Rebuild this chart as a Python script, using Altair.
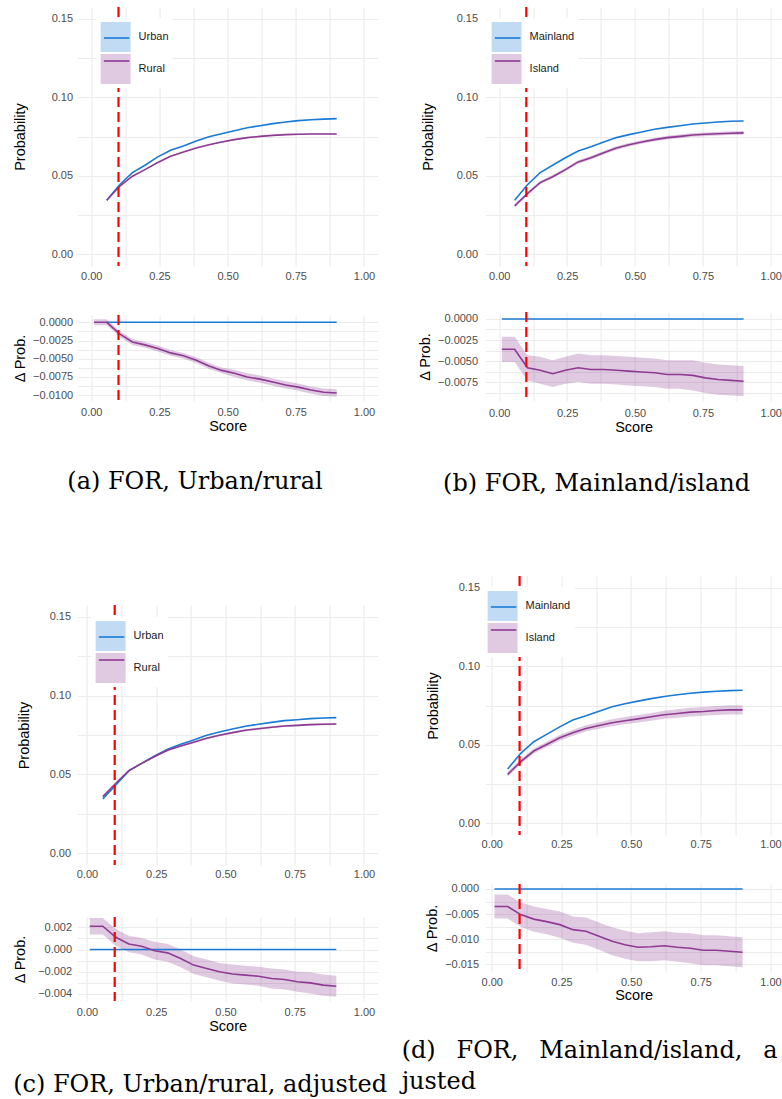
import json
import altair as alt
import pandas as pd

# Score grid shared by every panel; the probability curves start at the second point.
SCORE = [0.010, 0.057, 0.104, 0.151, 0.197, 0.244, 0.291, 0.338, 0.385, 0.432,
         0.478, 0.525, 0.572, 0.619, 0.666, 0.713, 0.759, 0.806, 0.853, 0.900]
CUTOFF = 0.1

# (a) Urban / rural
A_NAMES = ["Urban", "Rural"]
A_REF = [0.0344, 0.0443, 0.0520, 0.0567, 0.0620, 0.0662, 0.0690, 0.0721, 0.0749, 0.0768,
         0.0787, 0.0806, 0.0819, 0.0832, 0.0842, 0.0851, 0.0857, 0.0861, 0.0864]
A_REF_SE = [0.0002, 0.0002, 0.0002, 0.0002, 0.0002, 0.0002, 0.0002, 0.0002, 0.0002, 0.0002,
            0.0002, 0.0002, 0.0002, 0.0002, 0.0002, 0.0002, 0.0002, 0.0002, 0.0002]
A_GRP = [0.0344, 0.0433, 0.0497, 0.0539, 0.0584, 0.0624, 0.0651, 0.0677, 0.0698, 0.0715,
         0.0730, 0.0743, 0.0751, 0.0757, 0.0762, 0.0764, 0.0766, 0.0766, 0.0766]
A_GRP_SE = [0.0003, 0.0003, 0.0003, 0.0003, 0.0004, 0.0004, 0.0004, 0.0004, 0.0004, 0.0004,
            0.0004, 0.0004, 0.0004, 0.0004, 0.0004, 0.0004, 0.0004, 0.0004, 0.0004]
A_DELTA = [0.0000, 0.0000, -0.0016, -0.0027, -0.0031, -0.0036, -0.0042, -0.0046, -0.0052, -0.0060,
           -0.0066, -0.0070, -0.0075, -0.0078, -0.0082, -0.0086, -0.0089, -0.0093, -0.0096, -0.0097]
A_DELTA_SE = [0.0004, 0.0004, 0.0004, 0.0004, 0.0004, 0.0004, 0.0004, 0.0004, 0.0004, 0.0004,
              0.0004, 0.0005, 0.0005, 0.0005, 0.0005, 0.0005, 0.0005, 0.0005, 0.0005, 0.0005]

# (b) Mainland / island
B_NAMES = ["Mainland", "Island"]
B_REF = [0.0344, 0.0443, 0.0520, 0.0567, 0.0615, 0.0658, 0.0685, 0.0715, 0.0743, 0.0762,
         0.0779, 0.0796, 0.0808, 0.0819, 0.0830, 0.0836, 0.0842, 0.0847, 0.0849]
B_REF_SE = [0.0002, 0.0002, 0.0002, 0.0002, 0.0002, 0.0002, 0.0002, 0.0002, 0.0002, 0.0002,
            0.0002, 0.0002, 0.0002, 0.0002, 0.0002, 0.0002, 0.0002, 0.0002, 0.0002]
B_GRP = [0.0308, 0.0386, 0.0456, 0.0494, 0.0539, 0.0588, 0.0615, 0.0647, 0.0677, 0.0698,
         0.0715, 0.0730, 0.0743, 0.0751, 0.0760, 0.0764, 0.0768, 0.0771, 0.0773]
B_GRP_SE = [0.0010, 0.0010, 0.0010, 0.0010, 0.0011, 0.0011, 0.0011, 0.0011, 0.0011, 0.0011,
            0.0011, 0.0011, 0.0012, 0.0012, 0.0012, 0.0012, 0.0012, 0.0012, 0.0012]
B_DELTA = [-0.0036, -0.0036, -0.0058, -0.0061, -0.0065, -0.0061, -0.0058, -0.0060, -0.0060, -0.0061,
           -0.0062, -0.0063, -0.0064, -0.0066, -0.0066, -0.0067, -0.0070, -0.0072, -0.0073, -0.0074]
B_DELTA_SE = [0.0015, 0.0015, 0.0015, 0.0016, 0.0016, 0.0016, 0.0017, 0.0017, 0.0017, 0.0017,
              0.0017, 0.0017, 0.0017, 0.0017, 0.0017, 0.0018, 0.0018, 0.0018, 0.0018, 0.0018]

# (c) Urban / rural, adjusted
C_NAMES = ["Urban", "Rural"]
C_REF = [0.0344, 0.0433, 0.0522, 0.0570, 0.0617, 0.0659, 0.0691, 0.0718, 0.0748, 0.0769,
         0.0788, 0.0805, 0.0818, 0.0830, 0.0841, 0.0847, 0.0854, 0.0858, 0.0860]
C_REF_SE = [0.0002, 0.0002, 0.0002, 0.0002, 0.0002, 0.0002, 0.0002, 0.0002, 0.0002, 0.0002,
            0.0002, 0.0002, 0.0002, 0.0002, 0.0002, 0.0002, 0.0002, 0.0002, 0.0002]
C_GRP = [0.0359, 0.0444, 0.0524, 0.0570, 0.0613, 0.0653, 0.0680, 0.0704, 0.0729, 0.0748,
         0.0765, 0.0780, 0.0790, 0.0799, 0.0807, 0.0811, 0.0816, 0.0818, 0.0820]
C_GRP_SE = [0.0006, 0.0006, 0.0006, 0.0006, 0.0006, 0.0006, 0.0006, 0.0006, 0.0006, 0.0006,
            0.0006, 0.0006, 0.0006, 0.0006, 0.0006, 0.0006, 0.0006, 0.0006, 0.0006]
C_DELTA = [0.0021, 0.0021, 0.0011, 0.0005, 0.0003, -0.0001, -0.0003, -0.0008, -0.0014, -0.0017,
           -0.0020, -0.0022, -0.0023, -0.0024, -0.0026, -0.0027, -0.0029, -0.0030, -0.0032, -0.0033]
C_DELTA_SE = [0.00075, 0.00075, 0.00075, 0.00075, 0.00075, 0.0008, 0.0008, 0.0008, 0.0008, 0.0008,
              0.0008, 0.00085, 0.00085, 0.00085, 0.0009, 0.0009, 0.0009, 0.00095, 0.00095, 0.00095]

# (d) Mainland / island, adjusted
D_NAMES = ["Mainland", "Island"]
D_REF = [0.0345, 0.0445, 0.0519, 0.0566, 0.0614, 0.0657, 0.0684, 0.0714, 0.0742, 0.0761,
         0.0778, 0.0794, 0.0807, 0.0818, 0.0828, 0.0835, 0.0841, 0.0845, 0.0847]
D_REF_SE = [0.0002, 0.0002, 0.0002, 0.0002, 0.0002, 0.0002, 0.0002, 0.0002, 0.0002, 0.0002,
            0.0002, 0.0002, 0.0002, 0.0002, 0.0002, 0.0002, 0.0002, 0.0002, 0.0002]
D_GRP = [0.0311, 0.0392, 0.0460, 0.0502, 0.0544, 0.0576, 0.0604, 0.0623, 0.0640, 0.0653,
         0.0665, 0.0678, 0.0691, 0.0699, 0.0708, 0.0712, 0.0718, 0.0722, 0.0722]
D_GRP_SE = [0.0015, 0.0015, 0.0016, 0.0017, 0.0018, 0.0019, 0.0020, 0.0021, 0.0022, 0.0023,
            0.0024, 0.0025, 0.0026, 0.0027, 0.0028, 0.0028, 0.0029, 0.0030, 0.0030]
D_DELTA = [-0.0035, -0.0035, -0.0051, -0.0060, -0.0065, -0.0071, -0.0081, -0.0084, -0.0094, -0.0104,
           -0.0111, -0.0116, -0.0115, -0.0113, -0.0116, -0.0118, -0.0122, -0.0122, -0.0124, -0.0126]
D_DELTA_SE = [0.0024, 0.0024, 0.0024, 0.0025, 0.0025, 0.0026, 0.0026, 0.0027, 0.0027, 0.0028,
              0.0028, 0.0028, 0.0029, 0.0029, 0.0029, 0.0030, 0.0030, 0.0030, 0.0030, 0.0030]

BLUE = "#1a7bd6"
PURPLE = "#8e3a93"
RED = "#ff0000"
SANS = "Liberation Sans"
SERIF = "DejaVu Serif"

X_GRID = [0.0, 0.125, 0.25, 0.375, 0.5, 0.625, 0.75, 0.875, 1.0]
X_MAJOR = [0.0, 0.25, 0.5, 0.75, 1.0]
P_GRID = [0.0, 0.025, 0.05, 0.075, 0.1, 0.125, 0.15]
P_MAJOR = [0.0, 0.05, 0.1, 0.15]

INDEP = dict(fill="independent", stroke="independent")


def label_expr(major, fmt):
    return f"indexof({json.dumps(major)}, datum.value) >= 0 ? format(datum.value, '{fmt}') : ''"


def x_enc(x_dom, lab_pad, title=None, title_pad=3):
    return alt.X(
        "score:Q",
        scale=alt.Scale(domain=x_dom, nice=False, zero=False),
        axis=alt.Axis(values=X_GRID, labelExpr=label_expr(X_MAJOR, ".2f"), title=title,
                      labelPadding=lab_pad, titlePadding=title_pad, ticks=False, domain=False,
                      labelOverlap=False, labelFlush=False),
    )


def y_axis(grid, major, fmt, title, lab_pad, title_pad):
    return alt.Axis(values=grid, labelExpr=label_expr(major, fmt), title=title,
                    labelPadding=lab_pad, titlePadding=title_pad, ticks=False, domain=False,
                    labelOverlap=False, labelFlush=False)


def prob_panel(names, ref, ref_se, grp, grp_se, width, height, x_dom, leg_x, leg_y,
               y_lab_pad, y_title_pad, x_lab_pad):
    rows = []
    for name, vals, ses in ((names[0], ref, ref_se), (names[1], grp, grp_se)):
        for s, v, e in zip(SCORE[1:], vals, ses):
            rows.append({"score": s, "prob": v, "lo": v - e, "hi": v + e,
                         "series": name, "series_line": name})
    df = pd.DataFrame(rows)
    yscale = alt.Scale(domain=[-0.0075, 0.1575], nice=False, zero=False)
    yax = y_axis(P_GRID, P_MAJOR, ".2f", "Probability", y_lab_pad, y_title_pad)
    xe = x_enc(x_dom, x_lab_pad)
    legend_common = dict(orient="none", legendX=leg_x, legendY=leg_y, title=None, padding=4,
                         symbolSize=900, labelOffset=8, rowPadding=2, labelFont=SANS,
                         labelFontSize=11, labelColor="#1a1a1a")
    # ribbon keys (with the labels) underneath, line keys drawn over them
    band = alt.Chart(df).mark_area(opacity=0.27).encode(
        x=xe,
        y=alt.Y("lo:Q", scale=yscale, axis=yax, stack=None),
        y2="hi:Q",
        fill=alt.Fill("series:N", scale=alt.Scale(domain=names, range=[BLUE, PURPLE]),
                      legend=alt.Legend(symbolType="M-1,-1H1V1H-1Z", symbolOpacity=0.27,
                                        symbolStrokeWidth=0, symbolStrokeColor="transparent",
                                        fillColor="white", **legend_common)),
    )
    line = alt.Chart(df).mark_line(strokeWidth=1.6).encode(
        x=xe,
        y=alt.Y("prob:Q", scale=yscale, axis=yax),
        stroke=alt.Stroke("series_line:N", sort=names, scale=alt.Scale(range=[BLUE, PURPLE]),
                          legend=alt.Legend(symbolType="M-0.85,0H0.85", symbolStrokeWidth=1.6,
                                            symbolFillColor="transparent", labelExpr="''",
                                            **legend_common)),
    )
    cut = alt.Chart(pd.DataFrame({"score": [CUTOFF]})).mark_rule(
        color=RED, strokeWidth=2.2, strokeDash=[10, 5]).encode(x=xe)
    return alt.layer(band, line, cut).properties(width=width, height=height)


def delta_panel(delta, delta_se, ref_start, width, height, x_dom, y_dom, grid, major, fmt,
                y_lab_pad, y_title_pad, x_lab_pad, x_title_pad, caption):
    df = pd.DataFrame({"score": SCORE, "delta": delta,
                       "lo": [d - e for d, e in zip(delta, delta_se)],
                       "hi": [d + e for d, e in zip(delta, delta_se)]})
    ref = pd.DataFrame({"score": SCORE[ref_start:], "delta": 0.0})
    yscale = alt.Scale(domain=y_dom, nice=False, zero=False)
    yax = y_axis(grid, major, fmt, "\u0394 Prob.", y_lab_pad, y_title_pad)
    xe = x_enc(x_dom, x_lab_pad, title="Score", title_pad=x_title_pad)
    band = alt.Chart(df).mark_area(opacity=0.27, color=PURPLE).encode(
        x=xe, y=alt.Y("lo:Q", scale=yscale, axis=yax, stack=None), y2="hi:Q")
    ref_line = alt.Chart(ref).mark_line(strokeWidth=1.6, color=BLUE).encode(
        x=xe, y=alt.Y("delta:Q", scale=yscale, axis=yax))
    grp_line = alt.Chart(df).mark_line(strokeWidth=1.6, color=PURPLE).encode(
        x=xe, y=alt.Y("delta:Q", scale=yscale, axis=yax))
    cut = alt.Chart(pd.DataFrame({"score": [CUTOFF]})).mark_rule(
        color=RED, strokeWidth=2.2, strokeDash=[10, 5]).encode(x=xe)
    return alt.layer(band, ref_line, grp_line, cut).properties(
        width=width, height=height, title=caption)


def caption(text, anchor="middle", dx=0, offset=37):
    return alt.TitleParams(text, orient="bottom", anchor=anchor, frame="bounds", dx=dx,
                           offset=offset, font=SERIF, fontSize=24, fontWeight="normal",
                           color="black", lineHeight=31,
                           align="left" if anchor == "start" else "center")


def stack(top, bottom, gap):
    return alt.vconcat(top, bottom, spacing=gap).resolve_scale(**INDEP).resolve_legend(**INDEP)


A_D_GRID = [0.0, -0.00125, -0.0025, -0.00375, -0.005, -0.00625, -0.0075, -0.00875, -0.01]
A_D_MAJOR = [0.0, -0.0025, -0.005, -0.0075, -0.01]
B_D_GRID = [0.0, -0.00125, -0.0025, -0.00375, -0.005, -0.00625, -0.0075, -0.00875]
B_D_MAJOR = [0.0, -0.0025, -0.005, -0.0075]
C_D_GRID = [0.002, 0.001, 0.0, -0.001, -0.002, -0.003, -0.004]
C_D_MAJOR = [0.002, 0.0, -0.002, -0.004]
D_D_GRID = [0.0, -0.0025, -0.005, -0.0075, -0.01, -0.0125, -0.015]
D_D_MAJOR = [0.0, -0.005, -0.01, -0.015]

AX = [-0.05, 1.05]
BX = [-0.05, 1.04]
CX = [-0.034, 1.049]
DX = [-0.022, 1.04]

SP = "\u2002\u2009\u2006"

a_top = prob_panel(A_NAMES, A_REF, A_REF_SE, A_GRP, A_GRP_SE, 300, 259, AX, 19, 11, 5, 24, 4)
a_bot = delta_panel(A_DELTA, A_DELTA_SE, 1, 300, 86, AX, [-0.0108, 0.001], A_D_GRID, A_D_MAJOR,
                    ".4f", 5, 5, 5, 2, caption("(a) FOR, Urban/rural"))
b_top = prob_panel(B_NAMES, B_REF, B_REF_SE, B_GRP, B_GRP_SE, 296, 259, BX, 2, 11, 8, 21, 4)
b_bot = delta_panel(B_DELTA, B_DELTA_SE, 0, 296, 89, BX, [-0.00975, 0.00083], B_D_GRID, B_D_MAJOR,
                    ".4f", 8, 5, 6, 2, caption("(b) FOR, Mainland/island", dx=-3, offset=38))
c_top = prob_panel(C_NAMES, C_REF, C_REF_SE, C_GRP, C_GRP_SE, 300, 260, CX, 14, 12, 7, 18, 4)
c_bot = delta_panel(C_DELTA, C_DELTA_SE, 0, 300, 84, CX, [-0.00463, 0.00293], C_D_GRID, C_D_MAJOR,
                    ".3f", 6, 10, 6, 2, caption("(c) FOR, Urban/rural, adjusted", dx=5, offset=40))
d_top = prob_panel(D_NAMES, D_REF, D_REF_SE, D_GRP, D_GRP_SE, 296, 259, DX, -2, 11, 6, 18, 4)
d_bot = delta_panel(D_DELTA, D_DELTA_SE, 0, 296, 88, DX, [-0.01653, 0.00099], D_D_GRID, D_D_MAJOR,
                    ".3f", 7, 5, 5, 1,
                    caption([f"(d){SP}FOR,{SP}Mainland/island,{SP}a", "justed"],
                            anchor="start", dx=-23))

left = alt.vconcat(stack(a_top, a_bot, 32), stack(c_top, c_bot, 35), spacing=109
                   ).resolve_scale(**INDEP).resolve_legend(**INDEP)
right = alt.vconcat(stack(b_top, b_bot, 29), stack(d_top, d_bot, 32), spacing=78
                    ).resolve_scale(**INDEP).resolve_legend(**INDEP)

chart = alt.hconcat(left, right, spacing=14).resolve_scale(**INDEP).resolve_legend(**INDEP).properties(
    padding={"left": 11.6, "top": 5, "right": 0, "bottom": 0},
    background="white",
).configure_view(stroke=None).configure_axis(
    labelFont=SANS, labelFontSize=11, labelColor="#4d4d4d",
    titleFont=SANS, titleFontSize=14.5, titleFontWeight="normal", titleColor="black",
    gridColor="#ebebeb", gridWidth=1.1,
)

chart.save("out.html", embed_options={"renderer": "svg", "actions": False})
